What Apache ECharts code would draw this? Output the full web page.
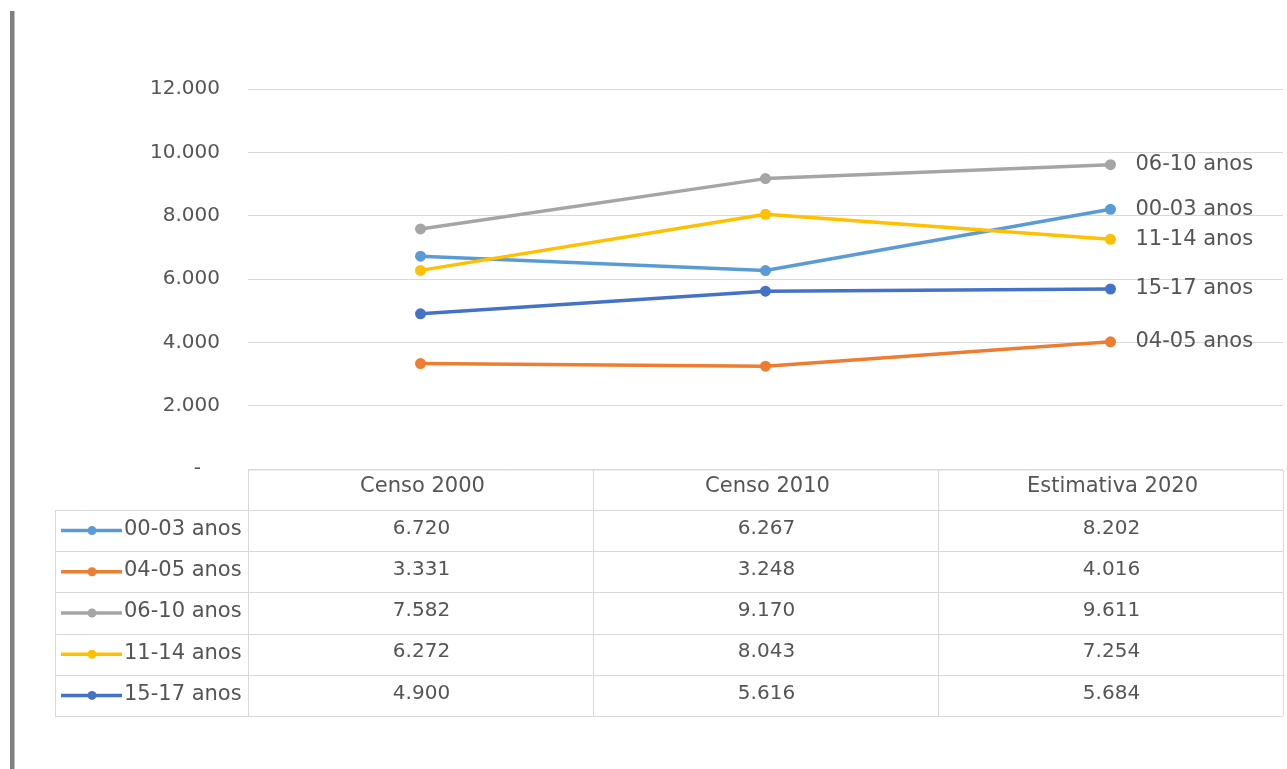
<!DOCTYPE html>
<html>
<head>
<meta charset="utf-8">
<script src="https://cdn.jsdelivr.net/npm/echarts@6/dist/echarts.min.js"></script>
<style>
html,body{margin:0;padding:0;background:#fff;}
#c{width:1287px;height:769px;}
</style>
</head>
<body>
<div id="c"></div>
<script>
// ---- data ----
const categories = ['Censo 2000', 'Censo 2010', 'Estimativa 2020'];
const seriesNames = ['00-03 anos', '04-05 anos', '06-10 anos', '11-14 anos', '15-17 anos'];
const s0003 = [6720, 6267, 8202];
const s0405 = [3331, 3248, 4016];
const s0610 = [7582, 9170, 9611];
const s1114 = [6272, 8043, 7254];
const s1517 = [4900, 5616, 5684];
const yTicks = [0, 2000, 4000, 6000, 8000, 10000, 12000];

const seriesValues = [s0003, s0405, s0610, s1114, s1517];
const colors = ['#5B9BD5', '#ED7D31', '#A5A5A5', '#FFC000', '#4472C4'];
const FONT = 'DejaVu Sans';
const TXT = '#555555';
const LINE = '#d9d9d9';

function fmt(v) {
  return String(v).replace(/\B(?=(\d{3})+(?!\d))/g, '.');
}

// layout of the grid / table
const gridLeft = 248, gridRight = 4, gridTop = 89, gridBottom = 300;
const W = 1287, H = 769;
const tableLeft = 55, tableRight = W - gridRight;
const colW = (tableRight - gridLeft) / categories.length;
const headerTop = H - gridBottom + 1, headerH = 40, rowH = 41.2;

const graphics = [];
// left vertical bar
graphics.push({type:'rect', shape:{x:10, y:11, width:4.5, height:758}, style:{fill:'#7f7f7f'}, silent:true});

const rowsTop = headerTop + headerH;
const tableBottom = rowsTop + rowH * seriesNames.length;
// header top line
graphics.push({type:'line', shape:{x1:gridLeft, y1:headerTop, x2:tableRight, y2:headerTop}, style:{stroke:LINE, lineWidth:1}, silent:true});
// horizontal row lines
for (let r = 0; r <= seriesNames.length; r++) {
  const y = Math.round(rowsTop + r * rowH) + 0.5;
  graphics.push({type:'line', shape:{x1:tableLeft, y1:y, x2:tableRight, y2:y}, style:{stroke:LINE, lineWidth:1}, silent:true});
}
// vertical lines
graphics.push({type:'line', shape:{x1:tableLeft+0.5, y1:rowsTop, x2:tableLeft+0.5, y2:tableBottom}, style:{stroke:LINE, lineWidth:1}, silent:true});
for (let c = 0; c <= categories.length; c++) {
  const x = Math.round(gridLeft + c * colW) + 0.5;
  graphics.push({type:'line', shape:{x1:x, y1:headerTop, x2:x, y2:tableBottom}, style:{stroke:LINE, lineWidth:1}, silent:true});
}
// header texts
categories.forEach((cat, c) => {
  graphics.push({type:'text', x: gridLeft + (c + 0.5) * colW + 2, y: headerTop + headerH / 2 - 3,
    style:{text:cat, fill:TXT, font:'21px "' + FONT + '"', align:'center', verticalAlign:'middle'}, silent:true});
});
// rows
seriesNames.forEach((name, r) => {
  const yc = rowsTop + (r + 0.5) * rowH;
  graphics.push({type:'line', shape:{x1:61, y1:yc, x2:122, y2:yc}, style:{stroke:colors[r], lineWidth:3.5}, silent:true});
  graphics.push({type:'circle', shape:{cx:92, cy:yc, r:4.5}, style:{fill:colors[r]}, silent:true});
  graphics.push({type:'text', x:124, y:yc - 1,
    style:{text:name, fill:TXT, font:'21px "' + FONT + '"', align:'left', verticalAlign:'middle'}, silent:true});
  seriesValues[r].forEach((v, c) => {
    graphics.push({type:'text', x: gridLeft + (c + 0.5) * colW + 1, y: yc - 2,
      style:{text:fmt(v), fill:TXT, font:'20px "' + FONT + '"', align:'center', verticalAlign:'middle'}, silent:true});
  });
});

const chart = echarts.init(document.getElementById('c'), null, {renderer:'canvas'});
chart.setOption({
  animation: false,
  backgroundColor: '#fff',
  textStyle: {fontFamily: FONT},
  grid: {left: gridLeft, right: gridRight, top: gridTop, bottom: gridBottom, containLabel: false},
  xAxis: {
    type: 'category', data: categories, boundaryGap: true,
    axisLine: {show: false}, axisTick: {show: false}, axisLabel: {show: false}, splitLine: {show: false}
  },
  yAxis: {
    type: 'value', min: yTicks[0], max: yTicks[yTicks.length - 1], interval: yTicks[1] - yTicks[0],
    axisLine: {show: false}, axisTick: {show: false},
    splitLine: {lineStyle: {color: LINE, width: 1}},
    axisLabel: {color: TXT, fontSize: 20, fontFamily: FONT, margin: 28,
      formatter: v => v === 0 ? '-   ' : fmt(v)}
  },
  series: seriesNames.map((name, i) => ({
    name: name, type: 'line', data: seriesValues[i],
    symbol: 'circle', symbolSize: 11,
    lineStyle: {color: colors[i], width: 3.5},
    itemStyle: {color: colors[i]},
    endLabel: {show: true, formatter: '{a}', color: TXT, fontSize: 21, fontFamily: FONT, distance: 25}
  })),
  graphic: graphics
});
</script>
</body>
</html>
